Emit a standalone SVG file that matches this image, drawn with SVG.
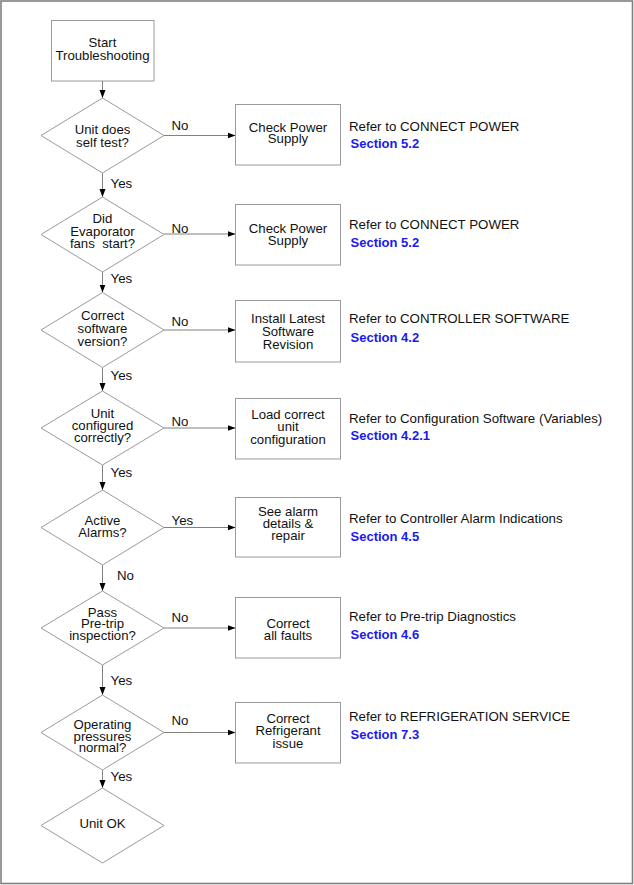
<svg xmlns="http://www.w3.org/2000/svg" width="634" height="885" viewBox="0 0 634 885">
<defs>
<style>
.t{font-family:"Liberation Sans",Arial,sans-serif;font-size:13.2px;fill:#111;text-anchor:middle}
.l{font-family:"Liberation Sans",Arial,sans-serif;font-size:13.3px;fill:#111}
.s{font-family:"Liberation Sans",Arial,sans-serif;font-size:13px;font-weight:bold;fill:#1a1aee}
.n{fill:#fff;stroke:#9a9a9a;stroke-width:1}
.c{fill:none;stroke:#808080;stroke-width:1;marker-end:url(#ah)}
</style>
<marker id="ah" markerUnits="userSpaceOnUse" markerWidth="8" markerHeight="8" viewBox="0 0 8 8" refX="8" refY="4" orient="auto">
<path d="M0,1 L8,4 L0,7 z" fill="#000"/>
</marker>
</defs>
<rect x="1" y="1" width="631.5" height="882.5" fill="#fff" stroke="#808080" stroke-width="1.6"/>
<g id="connectors">
<line class="c" x1="102.5" y1="81" x2="102.5" y2="98"/>
<line class="c" x1="102.5" y1="173" x2="102.5" y2="197"/>
<line class="c" x1="102.5" y1="272" x2="102.5" y2="292.5"/>
<line class="c" x1="102.5" y1="367.5" x2="102.5" y2="391"/>
<line class="c" x1="102.5" y1="465" x2="102.5" y2="490"/>
<line class="c" x1="102.5" y1="565" x2="102.5" y2="591"/>
<line class="c" x1="102.5" y1="665" x2="102.5" y2="695"/>
<line class="c" x1="102.5" y1="770" x2="102.5" y2="788"/>
<line class="c" x1="164" y1="135.5" x2="235.5" y2="135.5"/>
<line class="c" x1="164" y1="234" x2="235.5" y2="234"/>
<line class="c" x1="164" y1="330" x2="235.5" y2="330"/>
<line class="c" x1="164" y1="428" x2="235.5" y2="428"/>
<line class="c" x1="164" y1="527.5" x2="235.5" y2="527.5"/>
<line class="c" x1="164" y1="628" x2="235.5" y2="628"/>
<line class="c" x1="164" y1="732.5" x2="235.5" y2="732.5"/>
<text class="l" x="171.5" y="130">No</text>
<text class="l" x="171.5" y="232.5">No</text>
<text class="l" x="171.5" y="326">No</text>
<text class="l" x="171.5" y="426">No</text>
<text class="l" x="171.5" y="524.5">Yes</text>
<text class="l" x="171.5" y="622">No</text>
<text class="l" x="171.5" y="724.5">No</text>
<text class="l" x="110.5" y="188">Yes</text>
<text class="l" x="110.5" y="282.5">Yes</text>
<text class="l" x="110.5" y="379.5">Yes</text>
<text class="l" x="110.5" y="476.5">Yes</text>
<text class="l" x="117" y="579.5">No</text>
<text class="l" x="110.5" y="684.5">Yes</text>
<text class="l" x="110.5" y="781">Yes</text>
</g>
<g id="start">
<rect class="n" x="51.5" y="20.5" width="102.5" height="60.5"/>
<text class="t" x="102.5" y="47">Start</text>
<text class="t" x="102.5" y="59.5">Troubleshooting</text>
</g>
<g id="d1">
<polygon class="n" points="102.5,98 164,135.5 102.5,173 41,135.5"/>
<text class="t" x="102.5" y="133.5">Unit does</text>
<text class="t" x="102.5" y="146.5">self test?</text>
</g>
<g id="d2">
<polygon class="n" points="102.5,197 164,234.5 102.5,272 41,234.5"/>
<text class="t" x="102.5" y="222.5">Did</text>
<text class="t" x="102.5" y="235.5">Evaporator</text>
<text class="t" x="102.5" y="248" xml:space="preserve">fans  start?</text>
</g>
<g id="d3">
<polygon class="n" points="102.5,292.5 164,330 102.5,367.5 41,330"/>
<text class="t" x="102.5" y="320">Correct</text>
<text class="t" x="102.5" y="333">software</text>
<text class="t" x="102.5" y="345.5">version?</text>
</g>
<g id="d4">
<polygon class="n" points="102.5,391 164,428 102.5,465 41,428"/>
<text class="t" x="102.5" y="417.5">Unit</text>
<text class="t" x="102.5" y="429.5">configured</text>
<text class="t" x="102.5" y="441.5">correctly?</text>
</g>
<g id="d5">
<polygon class="n" points="102.5,490 164,527.5 102.5,565 41,527.5"/>
<text class="t" x="102.5" y="524.5">Active</text>
<text class="t" x="102.5" y="536.5">Alarms?</text>
</g>
<g id="d6">
<polygon class="n" points="102.5,591 164,628 102.5,665 41,628"/>
<text class="t" x="102.5" y="616.5">Pass</text>
<text class="t" x="102.5" y="628">Pre-trip</text>
<text class="t" x="102.5" y="639.5">inspection?</text>
</g>
<g id="d7">
<polygon class="n" points="102.5,695 164,732.5 102.5,770 41,732.5"/>
<text class="t" x="102.5" y="728.5">Operating</text>
<text class="t" x="102.5" y="740.5">pressures</text>
<text class="t" x="102.5" y="752">normal?</text>
</g>
<g id="d8">
<polygon class="n" points="102.5,788 164,825.5 102.5,863 41,825.5"/>
<text class="t" x="102.5" y="828">Unit OK</text>
</g>
<g id="b1">
<rect class="n" x="235.5" y="104.5" width="105" height="60.5"/>
<text class="t" x="288" y="131.5">Check Power</text>
<text class="t" x="288" y="143">Supply</text>
</g>
<g id="b2">
<rect class="n" x="235.5" y="204.5" width="105" height="60.5"/>
<text class="t" x="288" y="232.5">Check Power</text>
<text class="t" x="288" y="244.5">Supply</text>
</g>
<g id="b3">
<rect class="n" x="235.5" y="300.5" width="105" height="61.5"/>
<text class="t" x="288" y="322.5">Install Latest</text>
<text class="t" x="288" y="336">Software</text>
<text class="t" x="288" y="348.5">Revision</text>
</g>
<g id="b4">
<rect class="n" x="235.5" y="398.5" width="105" height="60.5"/>
<text class="t" x="288" y="418.5">Load correct</text>
<text class="t" x="288" y="431">unit</text>
<text class="t" x="288" y="444">configuration</text>
</g>
<g id="b5">
<rect class="n" x="235.5" y="497.5" width="105" height="59.5"/>
<text class="t" x="288" y="515.5">See alarm</text>
<text class="t" x="288" y="527.5">details &amp;</text>
<text class="t" x="288" y="539.5">repair</text>
</g>
<g id="b6">
<rect class="n" x="235.5" y="597.5" width="105" height="60.5"/>
<text class="t" x="288" y="627.5">Correct</text>
<text class="t" x="288" y="639.5">all faults</text>
</g>
<g id="b7">
<rect class="n" x="235.5" y="702.5" width="105" height="60.5"/>
<text class="t" x="288" y="722.5">Correct</text>
<text class="t" x="288" y="735">Refrigerant</text>
<text class="t" x="288" y="747.5">issue</text>
</g>
<g id="refs">
<text class="l" x="349" y="131">Refer to CONNECT POWER</text>
<text class="s" x="350.5" y="148">Section 5.2</text>
<text class="l" x="349" y="228.5">Refer to CONNECT POWER</text>
<text class="s" x="350.5" y="247">Section 5.2</text>
<text class="l" x="349" y="323">Refer to CONTROLLER SOFTWARE</text>
<text class="s" x="350.5" y="342">Section 4.2</text>
<text class="l" x="349" y="423">Refer to Configuration Software (Variables)</text>
<text class="s" x="350.5" y="439.5">Section 4.2.1</text>
<text class="l" x="349" y="523">Refer to Controller Alarm Indications</text>
<text class="s" x="350.5" y="540.5">Section 4.5</text>
<text class="l" x="349" y="620.5">Refer to Pre-trip Diagnostics</text>
<text class="s" x="350.5" y="638.5">Section 4.6</text>
<text class="l" x="349" y="720.5">Refer to REFRIGERATION SERVICE</text>
<text class="s" x="350.5" y="738.5">Section 7.3</text>
</g>
</svg>
